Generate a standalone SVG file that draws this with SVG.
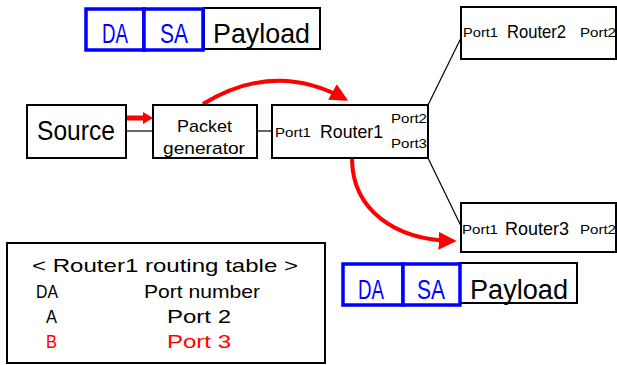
<svg xmlns="http://www.w3.org/2000/svg" width="617" height="365" viewBox="0 0 617 365">
<defs>
<style>
text{font-family:"Liberation Sans",Arial,sans-serif;fill:#000}
.box{fill:#fff;stroke:#000;stroke-width:2}
.blue{fill:#fff;stroke:#0000ff;stroke-width:3.5}
.bt{fill:#0000ff}
.red{fill:#ff0000}
.ln{stroke:#000;stroke-width:1.2;fill:none}
.ra{stroke:#ff0000;stroke-width:4;fill:none}
</style>
<marker id="ah" viewBox="0 0 10 10" refX="8" refY="5" markerWidth="4.5" markerHeight="4.5" orient="auto" markerUnits="strokeWidth">
<path d="M0,0 L10,5 L0,10 z" fill="#ff0000"/>
</marker>
</defs>
<g id="connectors">
<line class="ln" x1="126" y1="131" x2="153" y2="131"/>
<line class="ln" x1="257" y1="131" x2="272" y2="131"/>
<line class="ln" x1="428" y1="105" x2="461" y2="38"/>
<line class="ln" x1="428" y1="158" x2="461" y2="226"/>
<line x1="126" y1="118" x2="146" y2="118" stroke="#ff0000" stroke-width="5"/>
<path d="M143,112 L153,118 L143,124 z" fill="#ff0000"/>
<path class="ra" d="M203,104 Q275,60 345,99" marker-end="url(#ah)"/>
<path class="ra" d="M352,158 C352,210 395,240 453,241" marker-end="url(#ah)"/>
</g>
<g id="packet-top">
<rect class="box" x="204" y="8" width="116" height="41" stroke-width="1.5"/>
<rect class="blue" x="86" y="9" width="58" height="41"/>
<rect class="blue" x="144" y="9" width="59" height="41"/>
<text class="bt" x="102" y="43" font-size="27" textLength="26" lengthAdjust="spacingAndGlyphs">DA</text>
<text class="bt" x="160" y="43" font-size="27" textLength="28" lengthAdjust="spacingAndGlyphs">SA</text>
<text x="213" y="43" font-size="27" textLength="97" lengthAdjust="spacingAndGlyphs">Payload</text>
</g>
<g id="source">
<rect class="box" x="27" y="105" width="99" height="53"/>
<text x="37" y="140" font-size="27" textLength="78" lengthAdjust="spacingAndGlyphs">Source</text>
</g>
<g id="packet-generator">
<rect class="box" x="153" y="105" width="104" height="53"/>
<text x="177" y="132" font-size="17" textLength="55" lengthAdjust="spacingAndGlyphs">Packet</text>
<text x="163" y="154" font-size="17" textLength="82" lengthAdjust="spacingAndGlyphs">generator</text>
</g>
<g id="router1">
<rect class="box" x="272" y="105" width="156" height="53"/>
<text x="275" y="137" font-size="13" textLength="36" lengthAdjust="spacingAndGlyphs">Port1</text>
<text x="320" y="138" font-size="19" textLength="63" lengthAdjust="spacingAndGlyphs">Router1</text>
<text x="391" y="123" font-size="13" textLength="36" lengthAdjust="spacingAndGlyphs">Port2</text>
<text x="391" y="148" font-size="13" textLength="36" lengthAdjust="spacingAndGlyphs">Port3</text>
</g>
<g id="router2">
<rect class="box" x="461" y="7" width="155" height="52"/>
<text x="463" y="37" font-size="13" textLength="35" lengthAdjust="spacingAndGlyphs">Port1</text>
<text x="507" y="38" font-size="19" textLength="59" lengthAdjust="spacingAndGlyphs">Router2</text>
<text x="580" y="37" font-size="13" textLength="36" lengthAdjust="spacingAndGlyphs">Port2</text>
</g>
<g id="router3">
<rect class="box" x="461" y="203" width="155" height="49"/>
<text x="462" y="234" font-size="13" textLength="36" lengthAdjust="spacingAndGlyphs">Port1</text>
<text x="505" y="235" font-size="19" textLength="64" lengthAdjust="spacingAndGlyphs">Router3</text>
<text x="580" y="234" font-size="13" textLength="36" lengthAdjust="spacingAndGlyphs">Port2</text>
</g>
<g id="packet-bottom">
<rect class="box" x="459" y="263" width="118" height="40" stroke-width="1.5"/>
<rect class="blue" x="343" y="264" width="60" height="41"/>
<rect class="blue" x="403" y="264" width="57" height="41"/>
<text class="bt" x="358" y="299" font-size="27" textLength="26" lengthAdjust="spacingAndGlyphs">DA</text>
<text class="bt" x="417" y="299" font-size="27" textLength="28" lengthAdjust="spacingAndGlyphs">SA</text>
<text x="470" y="299" font-size="27" textLength="98" lengthAdjust="spacingAndGlyphs">Payload</text>
</g>
<g id="routing-table">
<rect class="box" x="7" y="243" width="318" height="120"/>
<text x="32" y="272" font-size="19" textLength="266" lengthAdjust="spacingAndGlyphs">&lt; Router1 routing table &gt;</text>
<text x="36" y="298" font-size="19" textLength="22" lengthAdjust="spacingAndGlyphs">DA</text>
<text x="144" y="298" font-size="19" textLength="116" lengthAdjust="spacingAndGlyphs">Port number</text>
<text x="46" y="323" font-size="19" textLength="11" lengthAdjust="spacingAndGlyphs">A</text>
<text x="167" y="323" font-size="19" textLength="64" lengthAdjust="spacingAndGlyphs">Port 2</text>
<text class="red" x="46" y="348" font-size="19" textLength="11" lengthAdjust="spacingAndGlyphs">B</text>
<text class="red" x="167" y="348" font-size="19" textLength="64" lengthAdjust="spacingAndGlyphs">Port 3</text>
</g>
</svg>
